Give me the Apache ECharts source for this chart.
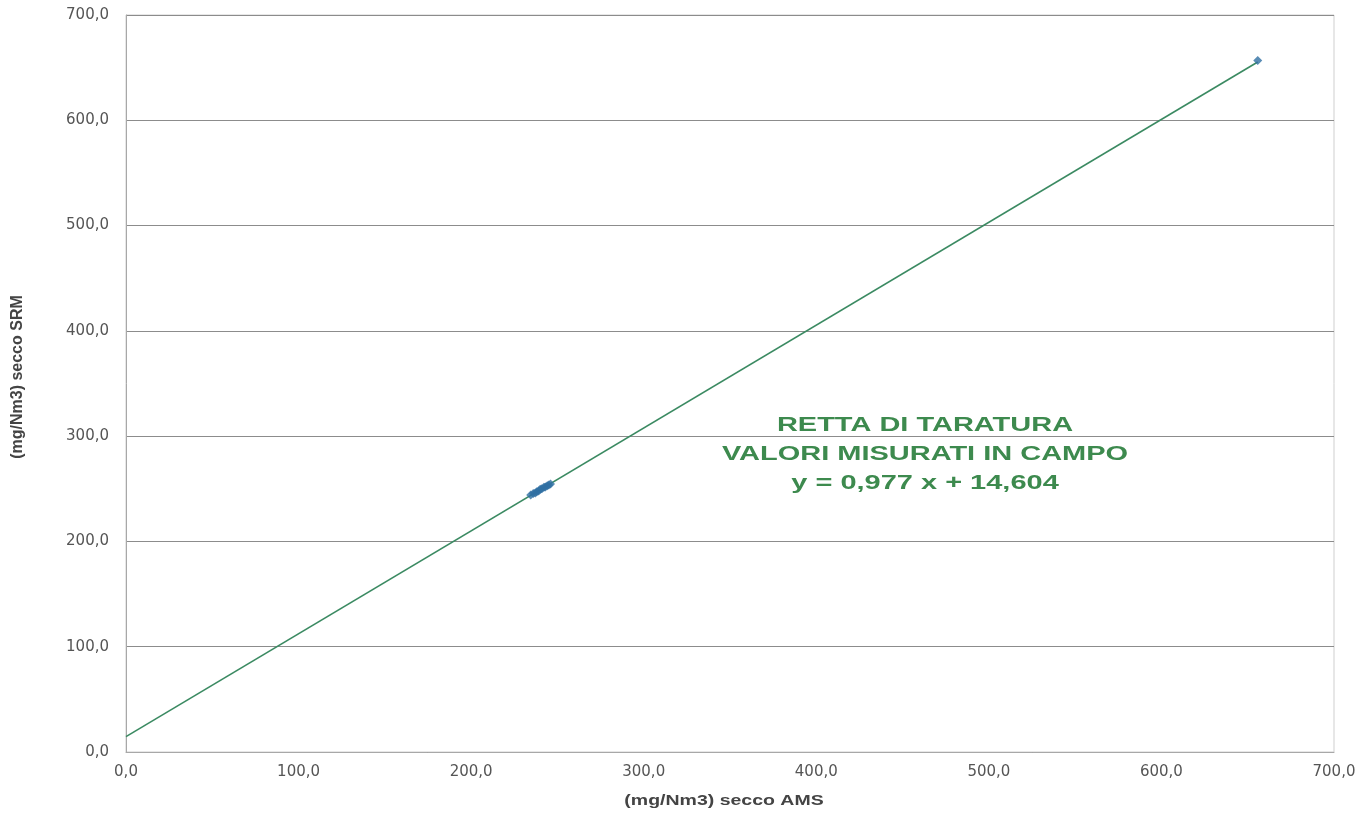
<!DOCTYPE html>
<html>
<head>
<meta charset="utf-8">
<script src="https://cdn.jsdelivr.net/npm/echarts@6/dist/echarts.min.js"></script>
<style>
  html, body { margin: 0; padding: 0; background: #fff; }
  #chart { width: 1363px; height: 818px; }
</style>
</head>
<body>
<div id="chart"></div>
<script>
// Field measurements: AMS reading (x) vs SRM reference (y), mg/Nm3 dry
const amsValues = [234.5, 236.0, 237.2, 238.0, 239.1, 240.0, 241.0, 242.2, 243.0, 244.1, 245.0, 246.0, 655.8];
const srmValues = [244.0, 245.5, 246.0, 247.3, 248.0, 249.5, 250.0, 251.5, 251.8, 253.0, 253.5, 254.5, 656.8];

// Calibration line coefficients
const slope = 0.977;
const intercept = 14.604;
const lineXRange = [0, 655.8];

const calibrationLabel = ['RETTA DI TARATURA', 'VALORI MISURATI IN CAMPO', 'y = 0,977 x + 14,604'];
const xAxisName = '(mg/Nm3) secco AMS';
const yAxisName = '(mg/Nm3) secco SRM';

const fmt = v => v.toFixed(1).replace('.', ',');

const points = amsValues.map((x, i) => [x, srmValues[i]]);
const linePoints = lineXRange.map(x => [x, slope * x + intercept]);

const labelFont = 'DejaVu Sans, Liberation Sans, Arial';

const chart = echarts.init(document.getElementById('chart'));
chart.setOption({
  animation: false,
  backgroundColor: '#ffffff',
  grid: {
    left: 126, right: 29, top: 15, bottom: 66,
    show: true, borderColor: '#cfcfcf', borderWidth: 1
  },
  xAxis: {
    type: 'value', min: 0, max: 700, interval: 100,
    axisLine: { show: true, lineStyle: { color: '#a8a8a8' } },
    axisTick: { show: false },
    splitLine: { show: false },
    axisLabel: { formatter: fmt, fontFamily: labelFont, fontSize: 15, color: '#555', margin: 13 }
  },
  yAxis: {
    type: 'value', min: 0, max: 700, interval: 100,
    axisLine: { show: true, lineStyle: { color: '#a8a8a8' } },
    axisTick: { show: false },
    splitLine: { show: true, lineStyle: { color: '#8c8c8c', width: 1 } },
    axisLabel: { formatter: fmt, fontFamily: labelFont, fontSize: 15, color: '#555', margin: 17 }
  },
  series: [
    {
      type: 'line',
      data: linePoints,
      showSymbol: false,
      lineStyle: { color: '#3b8a62', width: 1.6 },
      z: 2
    },
    {
      type: 'scatter',
      data: points,
      symbol: 'diamond',
      symbolSize: 9,
      itemStyle: { color: '#2f6fa3' },
      z: 3
    }
  ],
  graphic: [
    {
      type: 'text',
      x: 925, y: 411,
      scaleX: 1.38,
      style: {
        text: calibrationLabel.join('\n'),
        align: 'center',
        fontFamily: 'Liberation Sans, Arial',
        fontSize: 21,
        fontWeight: 'bold',
        lineHeight: 29,
        fill: '#3d8a4e'
      }
    },
    {
      type: 'text',
      x: 724, y: 801,
      scaleX: 1.3,
      style: {
        text: xAxisName,
        align: 'center',
        verticalAlign: 'middle',
        fontFamily: 'Liberation Sans, Arial',
        fontSize: 15,
        fontWeight: 'bold',
        fill: '#444'
      }
    },
    {
      type: 'text',
      x: 18, y: 377,
      rotation: Math.PI / 2,
      style: {
        text: yAxisName,
        align: 'center',
        verticalAlign: 'middle',
        fontFamily: 'Liberation Sans, Arial',
        fontSize: 16,
        fontWeight: 'bold',
        fill: '#444'
      }
    }
  ]
});
</script>
</body>
</html>
